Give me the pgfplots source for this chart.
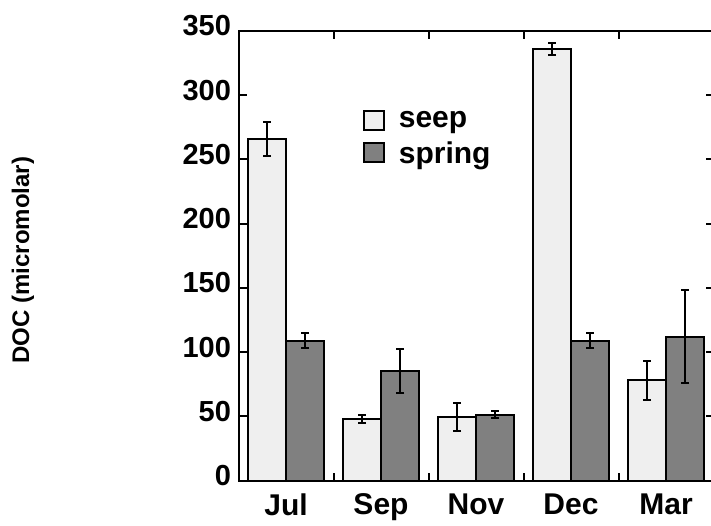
\documentclass[border=0pt]{standalone}
\usepackage{pgfplots}
\pgfplotsset{compat=1.18}
\usepackage{fontspec}
\setmainfont{Liberation Sans}
\definecolor{seepc}{RGB}{239,239,239}
\definecolor{springc}{RGB}{128,128,128}
\begin{document}
\begin{tikzpicture}
\useasboundingbox (0,0) rectangle (711pt,-525pt);
\begin{axis}[
  at={(238.5pt,-480.5pt)}, anchor=south west,
  scale only axis, width=475pt, height=449.5pt,
  xmin=-0.5, xmax=4.5, ymin=0, ymax=350,
  ybar=0pt, bar width=0.4,
  xtick={0,1,2,3,4},
  xticklabels={Jul,Sep,Nov,Dec,Mar},
  minor xtick={0.5,1.5,2.5,3.5},
  ytick={0,50,100,150,200,250,300,350},
  tick align=inside,
  major tick length=8pt, minor tick length=8pt,
  major x tick style={draw=none},
  minor x tick style={line width=2pt, black},
  major y tick style={line width=2pt, black},
  axis line style={line width=2pt},
  /pgf/number format/assume math mode=true,
  yticklabel style={font=\fontsize{29}{32}\selectfont\bfseries, yshift=5pt, xshift=-4pt},
  xticklabel style={font=\fontsize{30}{34}\selectfont\bfseries, yshift=-10pt},
  ylabel={DOC (micromolar)},
  ylabel style={at={(axis description cs:-0.4537,0.49)}, anchor=center, font=\fontsize{24}{28}\selectfont\bfseries},
  clip=false,
  legend cell align=left,
  legend style={draw=none, fill=none, at={(axis description cs:0.255,0.83)}, anchor=north west,
    font=\fontsize{30}{34}\selectfont\bfseries, row sep=8pt,
    /tikz/every odd column/.style={column sep=12pt}},
  legend image code/.code={\draw[#1, line width=2pt] (0pt,-9.5pt) rectangle (20pt,9.5pt);},
  error bars/y dir=both, error bars/y explicit,
  error bars/error bar style={line width=2pt, black},
  error bars/error mark options={rotate=90, mark size=4pt, line width=2pt, black},
]
\addplot[fill=seepc, draw=black, line width=2pt] coordinates {
  (0,266) +- (0,13.5)
  (1,48) +- (0,3)
  (2,49.5) +- (0,11)
  (3,336) +- (0,5)
  (4,78) +- (0,15)
};
\addplot[fill=springc, draw=black, line width=2pt] coordinates {
  (0,109) +- (0,5.5)
  (1,85.5) +- (0,17)
  (2,51.3) +- (0,3)
  (3,109) +- (0,5.5)
  (4,112) +- (0,36)
};
\legend{seep,spring}
\end{axis}
\end{tikzpicture}
\end{document}
